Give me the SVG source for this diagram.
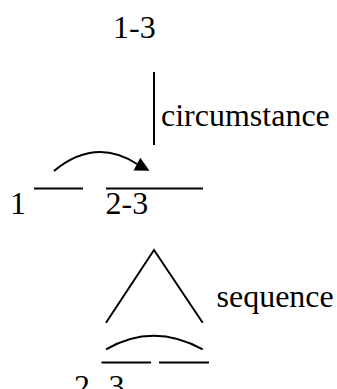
<svg xmlns="http://www.w3.org/2000/svg" width="337" height="389" viewBox="0 0 337 389">
<style>
text{font-family:"Liberation Serif","Times New Roman",serif;font-size:32px;fill:#000}
.ln{stroke:#000;stroke-width:2;fill:none}
</style>
<rect width="337" height="389" fill="#fff"/>
<g id="n13"><text x="113" y="38">1-3</text></g>
<g id="n1"><text x="10" y="214">1</text><line class="ln" x1="34" y1="188.5" x2="83" y2="188.5"/></g>
<g id="n23"><text x="105.5" y="214">2-3</text><line class="ln" x1="106" y1="188.5" x2="203" y2="188.5"/></g>
<g id="n2"><text x="74" y="397">2</text><line class="ln" x1="101.5" y1="362.5" x2="151" y2="362.5"/></g>
<g id="n3"><text x="108.5" y="397">3</text><line class="ln" x1="159" y1="362.5" x2="209" y2="362.5"/></g>
<g id="connectors">
<line class="ln" x1="154" y1="72" x2="154" y2="145"/>
<text x="161" y="125.5">circumstance</text>
<path class="ln" d="M54,171 Q95,137 137,164" />
<path d="M149.5,170.7 L133.5,170.5 L140.3,157.8 Z" fill="#000"/>
<path class="ln" d="M106,322.7 L154,250 L202.7,322.7"/>
<text x="216.5" y="307">sequence</text>
<path class="ln" d="M106,349.3 Q153,322 202.7,349.3"/>
</g>
</svg>
